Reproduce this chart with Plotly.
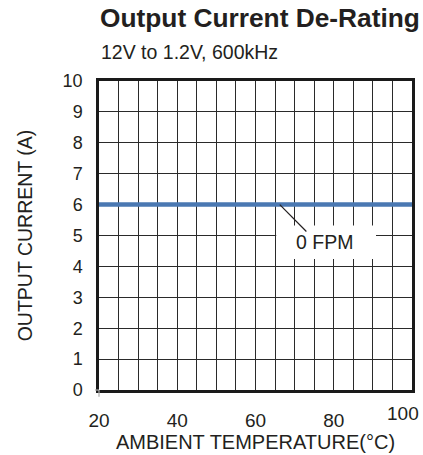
import plotly.graph_objects as go

# Data
temps = [20, 100]
current_0fpm = [6, 6]
series_label = "0 FPM"
x_tickvals = [20, 40, 60, 80]
x_last_tick = 100
y_tickvals = list(range(0, 11))

FONT = "Liberation Sans, Arial, sans-serif"
TXT = "#231f20"

fig = go.Figure()
fig.add_trace(go.Scatter(
    x=temps, y=current_0fpm, mode="lines",
    line=dict(color="#4a78b2", width=4.5),
    showlegend=False, hoverinfo="skip", cliponaxis=False,
))

grid = "#2a2a2a"
fig.update_xaxes(
    range=[20, 100], tickvals=x_tickvals, ticktext=[str(v) for v in x_tickvals],
    showgrid=True, gridcolor=grid, gridwidth=1,
    minor=dict(dtick=5, tick0=20, showgrid=True, gridcolor=grid, gridwidth=1),
    showline=True, linecolor="#1a1a1a", linewidth=2.5, mirror=True,
    ticks="", ticklabelstandoff=11, zeroline=False,
    tickfont=dict(family=FONT, size=19, color=TXT),
    title=dict(text="AMBIENT TEMPERATURE(°C)", standoff=2,
               font=dict(family=FONT, size=20, color=TXT)),
)
fig.update_yaxes(
    range=[0, 10], tickvals=y_tickvals,
    showgrid=True, gridcolor=grid, gridwidth=1,
    showline=True, linecolor="#1a1a1a", linewidth=2.5, mirror=True,
    ticks="", ticklabelstandoff=10, zeroline=False,
    tickfont=dict(family=FONT, size=18, color=TXT),
    title=dict(text="OUTPUT CURRENT (A)", standoff=25,
               font=dict(family=FONT, size=19.5, color=TXT)),
)

shapes = [
    # white label box behind the series label
    dict(type="rect", xref="x", yref="y", x0=65.3, x1=90.8, y0=4.24, y1=5.32,
         fillcolor="white", line=dict(width=0), layer="above"),
    # leader line
    dict(type="line", xref="x", yref="y", x0=66.2, y0=6, x1=73.0, y1=5.13,
         line=dict(color=TXT, width=1.2), layer="above"),
    # small corner ticks at origin
    dict(type="line", xref="paper", yref="paper", x0=0, x1=0, y0=0, y1=-0.022,
         line=dict(color="#aaaaaa", width=1.2)),
    dict(type="line", xref="paper", yref="paper", x0=0, x1=-0.013, y0=0, y1=0,
         line=dict(color="#aaaaaa", width=1.2)),
]

annotations = [
    dict(text="<b>Output Current De-Rating</b>", xref="paper", yref="paper",
         x=0, y=1, xanchor="left", yanchor="bottom", yshift=46, xshift=-1,
         showarrow=False, font=dict(family=FONT, size=26.3, color=TXT)),
    dict(text="12V to 1.2V, 600kHz", xref="paper", yref="paper",
         x=0, y=1, xanchor="left", yanchor="bottom", yshift=16, xshift=0,
         showarrow=False, font=dict(family=FONT, size=19.5, color=TXT)),
    dict(text=series_label, xref="x", yref="y", x=77.6, y=4.79,
         showarrow=False, font=dict(family=FONT, size=19.5, color=TXT)),
    dict(text=str(x_last_tick), xref="x", yref="paper", x=x_last_tick, y=0,
         xanchor="center", yanchor="top", yshift=-11, xshift=-9,
         showarrow=False, font=dict(family=FONT, size=19, color=TXT)),
]

fig.update_layout(
    width=423, height=455,
    margin=dict(l=99, r=8, t=81, b=59),
    paper_bgcolor="white", plot_bgcolor="white",
    shapes=shapes, annotations=annotations,
    font=dict(family=FONT, color=TXT),
)

fig.write_html("out.html", config={"displayModeBar": False},
               post_script="document.body.style.margin='0';document.body.style.padding='0';")
